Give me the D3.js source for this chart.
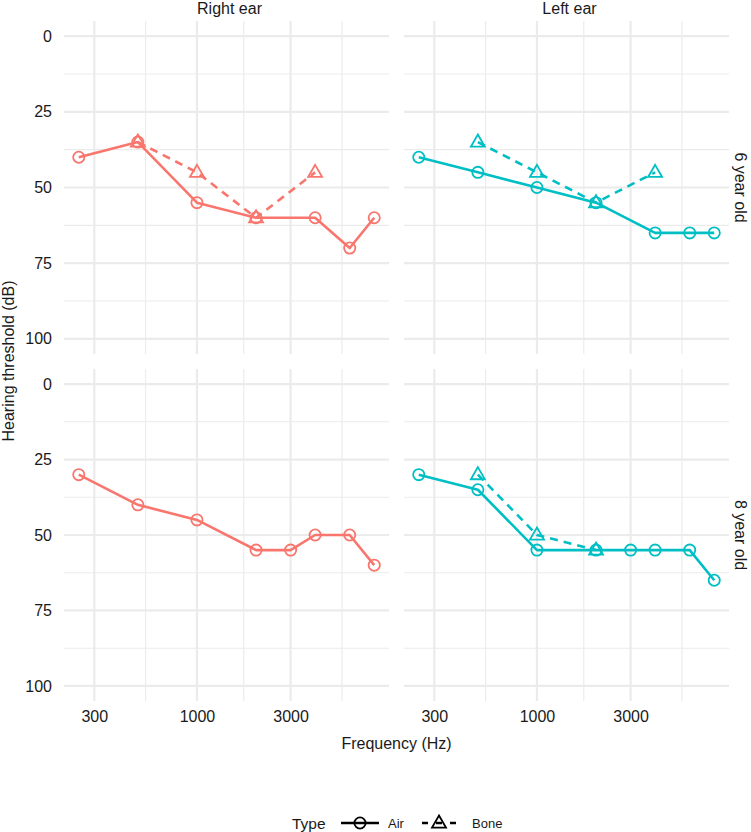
<!DOCTYPE html>
<html>
<head>
<meta charset="utf-8">
<script src="https://cdn.jsdelivr.net/npm/d3@7"></script>
<style>
  html, body { margin: 0; padding: 0; background: #fff; }
  svg { display: block; font-family: "Liberation Sans", Arial, sans-serif; }
</style>
</head>
<body>
<svg id="chart" width="751" height="832"></svg>
<script>
// ---------- data ----------
const earLabels = ["Right ear", "Left ear"];
const ageLabels = ["6 year old", "8 year old"];
const typeLabels = ["Air", "Bone"];
const xTickValues = [300, 1000, 3000];
const yTickValues = [0, 25, 50, 75, 100];

const right6AirFreq = [250, 500, 1000, 2000, 4000, 6000, 8000];
const right6AirDb   = [40, 35, 55, 60, 60, 70, 60];
const right6BoneFreq = [500, 1000, 2000, 4000];
const right6BoneDb   = [35, 45, 60, 45];

const left6AirFreq = [250, 500, 1000, 2000, 4000, 6000, 8000];
const left6AirDb   = [40, 45, 50, 55, 65, 65, 65];
const left6BoneFreq = [500, 1000, 2000, 4000];
const left6BoneDb   = [35, 45, 55, 45];

const right8AirFreq = [250, 500, 1000, 2000, 3000, 4000, 6000, 8000];
const right8AirDb   = [30, 40, 45, 55, 55, 50, 50, 60];

const left8AirFreq = [250, 500, 1000, 2000, 3000, 4000, 6000, 8000];
const left8AirDb   = [30, 35, 55, 55, 55, 55, 55, 65];
const left8BoneFreq = [500, 1000, 2000];
const left8BoneDb   = [30, 50, 55];

const earColors = { "Right ear": "#F8766D", "Left ear": "#00BFC4" };

// series table built from the arrays
const zip = (f, v) => f.map((d, i) => ({ f: d, db: v[i] }));
const series = [
  { ear: "Right ear", age: "6 year old", type: "Air",  pts: zip(right6AirFreq, right6AirDb) },
  { ear: "Right ear", age: "6 year old", type: "Bone", pts: zip(right6BoneFreq, right6BoneDb) },
  { ear: "Left ear",  age: "6 year old", type: "Air",  pts: zip(left6AirFreq, left6AirDb) },
  { ear: "Left ear",  age: "6 year old", type: "Bone", pts: zip(left6BoneFreq, left6BoneDb) },
  { ear: "Right ear", age: "8 year old", type: "Air",  pts: zip(right8AirFreq, right8AirDb) },
  { ear: "Left ear",  age: "8 year old", type: "Air",  pts: zip(left8AirFreq, left8AirDb) },
  { ear: "Left ear",  age: "8 year old", type: "Bone", pts: zip(left8BoneFreq, left8BoneDb) }
];

// ---------- layout ----------
const svg = d3.select("#chart");
const panelX = { "Right ear": [64, 389], "Left ear": [404, 729] };
const panelY = { "6 year old": [21, 354], "8 year old": [369, 701] };

const allF = series.flatMap(s => s.pts.map(p => p.f));
const lo = Math.log10(d3.min(allF)), hi = Math.log10(d3.max(allF));
const pad = 0.05 * (hi - lo);
const xDomain = [Math.pow(10, lo - pad), Math.pow(10, hi + pad)];
const yDomain = [-5, 105];

const majorBreaks = [100, 300, 1000, 3000, 10000];
const xMinor = d3.pairs(majorBreaks).map(([a, b]) => Math.sqrt(a * b))
  .filter(v => v > xDomain[0] && v < xDomain[1]);
const yMinor = d3.pairs(yTickValues).map(([a, b]) => (a + b) / 2);

const gridColor = "#EBEBEB";
const textColor = "#1a1a1a";

function trianglePath(size) {
  const w = size, h = size * 0.866;
  return `M0,${-h * 0.62}L${w / 2},${h * 0.38}L${-w / 2},${h * 0.38}Z`;
}

const scales = {};
earLabels.forEach(ear => {
  ageLabels.forEach(age => {
    const x = d3.scaleLog().domain(xDomain).range(panelX[ear]);
    const y = d3.scaleLinear().domain(yDomain).range(panelY[age]);
    scales[ear + age] = { x, y };
    const g = svg.append("g");
    // minor grid
    g.selectAll(".vminor").data(xMinor).join("line")
      .attr("x1", d => x(d)).attr("x2", d => x(d))
      .attr("y1", panelY[age][0]).attr("y2", panelY[age][1])
      .attr("stroke", gridColor).attr("stroke-width", 1.1);
    g.selectAll(".hminor").data(yMinor).join("line")
      .attr("y1", d => y(d)).attr("y2", d => y(d))
      .attr("x1", panelX[ear][0]).attr("x2", panelX[ear][1])
      .attr("stroke", gridColor).attr("stroke-width", 1.1);
    // major grid
    g.selectAll(".vmajor").data(xTickValues).join("line")
      .attr("x1", d => x(d)).attr("x2", d => x(d))
      .attr("y1", panelY[age][0]).attr("y2", panelY[age][1])
      .attr("stroke", gridColor).attr("stroke-width", 2.2);
    g.selectAll(".hmajor").data(yTickValues).join("line")
      .attr("y1", d => y(d)).attr("y2", d => y(d))
      .attr("x1", panelX[ear][0]).attr("x2", panelX[ear][1])
      .attr("stroke", gridColor).attr("stroke-width", 2.2);

    // axes
    if (ear === "Right ear") {
      const ya = svg.append("g").attr("transform", `translate(${panelX[ear][0] - 8},0)`)
        .call(d3.axisLeft(y).tickValues(yTickValues).tickSize(0).tickPadding(4));
      ya.select(".domain").remove();
      ya.selectAll("text").attr("font-size", 16).attr("fill", textColor)
        .attr("font-family", "Liberation Sans, Arial, sans-serif");
    }
    if (age === "8 year old") {
      const xa = svg.append("g").attr("transform", `translate(0,${panelY[age][1] + 8})`)
        .call(d3.axisBottom(x).tickValues(xTickValues).tickFormat(d3.format("d")).tickSize(0).tickPadding(2));
      xa.select(".domain").remove();
      xa.selectAll("text").attr("font-size", 16).attr("fill", textColor)
        .attr("font-family", "Liberation Sans, Arial, sans-serif");
    }
  });
});

// strips
earLabels.forEach(ear => {
  svg.append("text").attr("x", (panelX[ear][0] + panelX[ear][1]) / 2 + 3).attr("y", 14)
    .attr("text-anchor", "middle").attr("font-size", 16).attr("fill", textColor).text(ear);
});
ageLabels.forEach(age => {
  const cy = (panelY[age][0] + panelY[age][1]) / 2;
  svg.append("text").attr("transform", `translate(735,${cy}) rotate(90)`)
    .attr("text-anchor", "middle").attr("font-size", 16).attr("fill", textColor).text(age);
});

// axis titles
svg.append("text").attr("x", (panelX["Right ear"][0] + panelX["Left ear"][1]) / 2).attr("y", 749)
  .attr("text-anchor", "middle").attr("font-size", 16).attr("fill", textColor).text("Frequency (Hz)");
svg.append("text").attr("transform", `translate(14,${(panelY["6 year old"][0] + panelY["8 year old"][1]) / 2}) rotate(-90)`)
  .attr("text-anchor", "middle").attr("font-size", 16).attr("fill", textColor).text("Hearing threshold (dB)");

// data
const dash = { Air: null, Bone: "8,6" };
series.forEach(s => {
  const { x, y } = scales[s.ear + s.age];
  const col = earColors[s.ear];
  const line = d3.line().x(d => x(d.f)).y(d => y(d.db));
  const g = svg.append("g");
  g.append("path").datum(s.pts).attr("d", line)
    .attr("fill", "none").attr("stroke", col).attr("stroke-width", 2.6)
    .attr("stroke-dasharray", dash[s.type]).attr("stroke-linejoin", "round");
  if (s.type === "Air") {
    g.selectAll("circle").data(s.pts).join("circle")
      .attr("cx", d => x(d.f)).attr("cy", d => y(d.db)).attr("r", 5.6)
      .attr("fill", "none").attr("stroke", col).attr("stroke-width", 1.8);
  } else {
    g.selectAll("path.tri").data(s.pts).join("path").attr("class", "tri")
      .attr("transform", d => `translate(${x(d.f)},${y(d.db)})`)
      .attr("d", trianglePath(14))
      .attr("fill", "none").attr("stroke", col).attr("stroke-width", 1.8);
  }
});

// legend
const lg = svg.append("g");
lg.append("text").attr("x", 292).attr("y", 829).attr("font-size", 15.5).attr("fill", textColor).text("Type");
lg.append("line").attr("x1", 341).attr("x2", 379).attr("y1", 823).attr("y2", 823)
  .attr("stroke", "#000").attr("stroke-width", 2.6);
lg.append("circle").attr("cx", 360).attr("cy", 823).attr("r", 5.6)
  .attr("fill", "none").attr("stroke", "#000").attr("stroke-width", 1.8);
lg.append("text").attr("x", 388).attr("y", 828).attr("font-size", 13).attr("fill", textColor).text(typeLabels[0]);
lg.append("line").attr("x1", 422).attr("x2", 459).attr("y1", 823).attr("y2", 823)
  .attr("stroke", "#000").attr("stroke-width", 2.6).attr("stroke-dasharray", "6,8");
lg.append("path").attr("transform", "translate(439,823)").attr("d", trianglePath(14))
  .attr("fill", "none").attr("stroke", "#000").attr("stroke-width", 1.8);
lg.append("text").attr("x", 472).attr("y", 828).attr("font-size", 13).attr("fill", textColor).text(typeLabels[1]);
</script>
</body>
</html>
